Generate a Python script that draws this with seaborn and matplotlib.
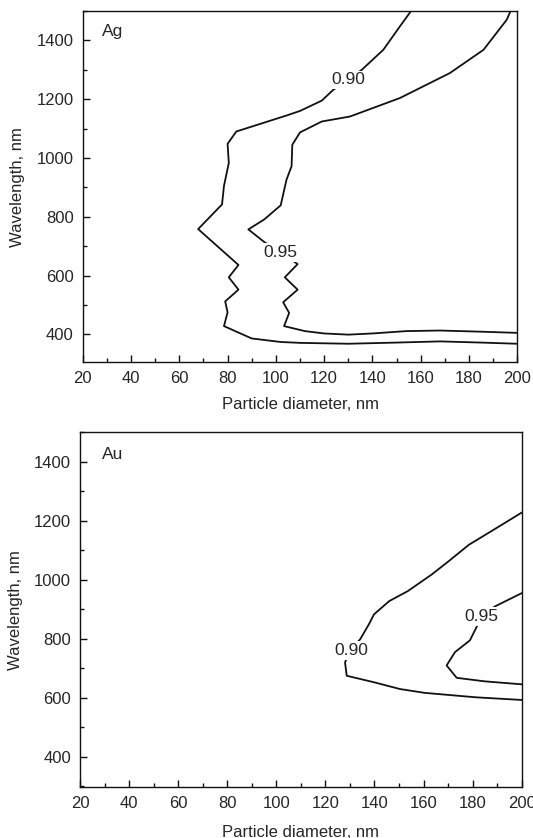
import matplotlib
matplotlib.use("Agg")
import matplotlib.pyplot as plt
from matplotlib.ticker import MultipleLocator
import seaborn as sns
import pandas as pd

# ---- data: contour lines (particle diameter nm, wavelength nm) ----
ag_090_d = [200, 185, 168, 150, 130, 110, 102, 90, 78.5, 80.0, 79.0, 84.5, 80.5, 84.5,
            67.8, 77.7, 78.5, 80.5, 80.0, 83.6, 92.4, 105, 110, 119, 123.8, 130,
            135.6, 144.5, 151.4, 156]
ag_090_wl = [368, 372, 376, 372, 368, 371, 374, 386, 428, 475, 512, 552, 594, 636,
             758, 842, 905, 983, 1048, 1090, 1113, 1146, 1160, 1195, 1232, 1266,
             1300, 1368, 1448, 1500]

ag_095_d = [200, 185, 168, 154, 140, 130, 120, 112, 103.4, 105.5, 103, 109, 103.7, 109,
            102, 95.2, 88.6, 95.2, 102, 104.4, 106.5, 106.8, 110, 119, 130.7, 151.4,
            172.1, 186, 195.6, 197.2]
ag_095_wl = [405, 409, 413, 411, 403, 399, 403, 411, 428, 473, 509, 552, 594, 639,
             678, 714, 757, 791, 839, 926, 972, 1045, 1087, 1124, 1141, 1204,
             1289, 1368, 1470, 1500]

au_090_d = [200, 181.3, 160.5, 150.4, 139.8, 128.7, 128, 130, 134.2, 137.7, 139.8, 146,
            153.6, 163.3, 170.2, 178.5, 189.6, 200]
au_090_wl = [593, 602, 617, 630, 653, 675, 720, 760, 799, 849, 883, 928,
             962, 1018, 1063, 1119, 1175, 1228]

au_095_d = [200, 185, 173.5, 169.4, 172.8, 178.9, 181.9, 183.4, 189.1, 200]
au_095_wl = [646, 656, 668, 710, 755, 795, 845, 876, 910, 955]

levels = ["0.90", "0.95"]
label_pos = {
    "Ag": {"0.90": (130.0, 1266), "0.95": (101.8, 678)},
    "Au": {"0.90": (130.5, 760), "0.95": (183.4, 876)},
}

x_ticks = [20, 40, 60, 80, 100, 120, 140, 160, 180, 200]
y_ticks = [400, 600, 800, 1000, 1200, 1400]

curves = {
    "Ag": [(levels[0], ag_090_d, ag_090_wl), (levels[1], ag_095_d, ag_095_wl)],
    "Au": [(levels[0], au_090_d, au_090_wl), (levels[1], au_095_d, au_095_wl)],
}

sns.set_style("ticks")
plt.rcParams["font.family"] = ["Liberation Sans", "DejaVu Sans"]
plt.rcParams["axes.linewidth"] = 1.0

fig = plt.figure(figsize=(5.33, 8.38), dpi=100)
ax_top = fig.add_axes([0.1552, 0.5677, 0.8154, 0.4192])
ax_bot = fig.add_axes([0.1501, 0.0605, 0.8287, 0.4236])

txt_col = "#262626"
line_col = "#111111"

settings = [
    (ax_top, "Ag", (305, 1500), (0.044, 0.962), 8),
    (ax_bot, "Au", (297, 1500), (0.049, 0.958), 9.5),
]

for ax, metal, ylim, tpos, xlp in settings:
    for lvl, d, wl in curves[metal]:
        df = pd.DataFrame({"d": d, "wl": wl})
        sns.lineplot(data=df, x="d", y="wl", sort=False, estimator=None,
                     color=line_col, linewidth=1.3, ax=ax, zorder=2)
        lx, ly = label_pos[metal][lvl]
        ax.text(lx, ly, lvl, ha="center", va="center", fontsize=12.5, color=txt_col,
                zorder=3,
                bbox=dict(boxstyle="square,pad=0.1", facecolor="white", edgecolor="none"))
    ax.set_xlim(20, 200)
    ax.set_ylim(*ylim)
    ax.set_xticks(x_ticks)
    ax.set_yticks(y_ticks)
    ax.xaxis.set_minor_locator(MultipleLocator(10))
    ax.yaxis.set_minor_locator(MultipleLocator(100))
    ax.tick_params(which="both", direction="in", top=False, right=False,
                   colors=line_col, labelcolor=txt_col, labelsize=12)
    ax.tick_params(which="major", length=5, width=1.0, pad=6.5)
    ax.tick_params(which="minor", length=3.2, width=1.0)
    for s in ax.spines.values():
        s.set_visible(True)
        s.set_color(line_col)
        s.set_linewidth(1.0)
    ax.set_xlabel("Particle diameter, nm", fontsize=12, color=txt_col, labelpad=xlp)
    ax.set_ylabel("Wavelength, nm", fontsize=12, color=txt_col, labelpad=8)
    ax.text(tpos[0], tpos[1], metal, transform=ax.transAxes, ha="left", va="top",
            fontsize=12.5, color=txt_col)

fig.savefig("out.png", dpi=100)
